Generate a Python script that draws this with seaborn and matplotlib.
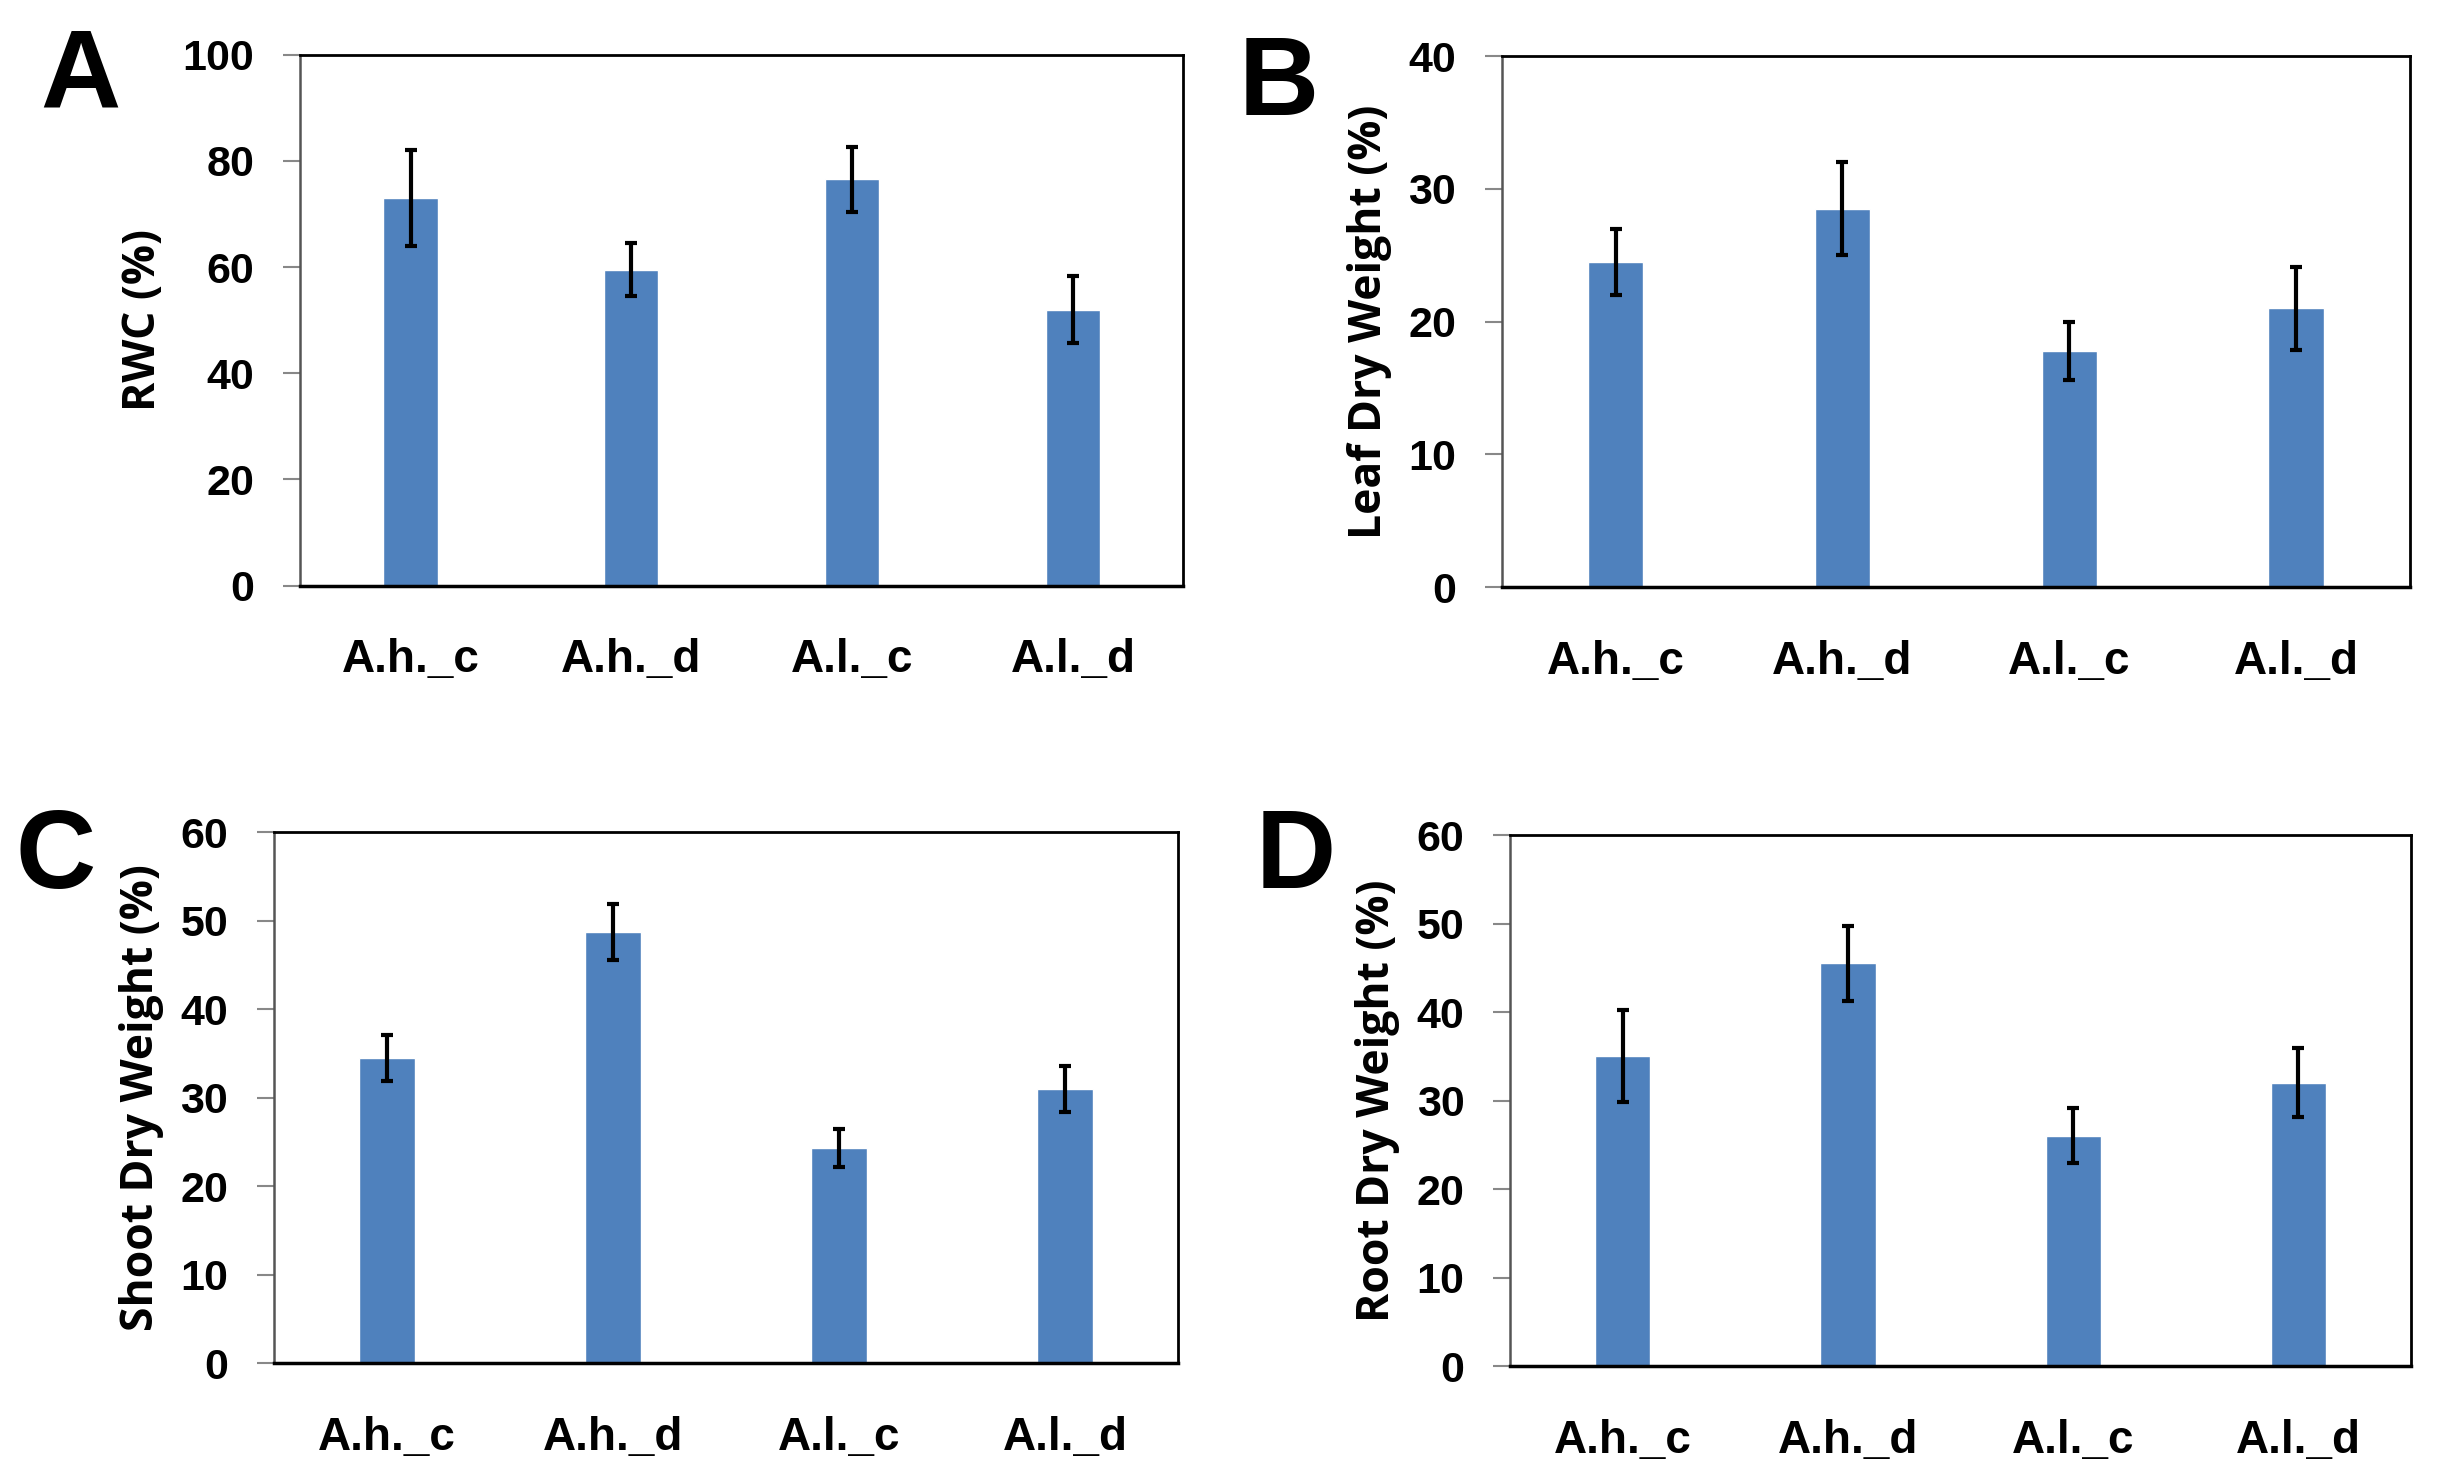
import matplotlib
matplotlib.use("Agg")
import matplotlib.pyplot as plt
import seaborn as sns
import pandas as pd

sns.set_theme(style="white")
plt.rcParams['font.family'] = ['Liberation Sans', 'DejaVu Sans']
plt.rcParams['text.color'] = 'black'
plt.rcParams['axes.labelcolor'] = 'black'

categories = ['A.h._c', 'A.h._d', 'A.l._c', 'A.l._d']

rwc = [73.0, 59.5, 76.5, 52.0]
rwc_err = [9.0, 5.0, 6.2, 6.3]

leaf_dw = [24.5, 28.5, 17.8, 21.0]
leaf_dw_err = [2.5, 3.5, 2.2, 3.1]

shoot_dw = [34.5, 48.7, 24.3, 31.0]
shoot_dw_err = [2.6, 3.2, 2.1, 2.6]

root_dw = [35.0, 45.5, 26.0, 32.0]
root_dw_err = [5.2, 4.2, 3.1, 3.9]

BAR_COLOR = '#4F81BD'

panels = [
    ('A', rwc, rwc_err, 'RWC (%)', 100, 20, [0.123, 0.604, 0.362, 0.359], (0.033, 0.947)),
    ('B', leaf_dw, leaf_dw_err, 'Leaf Dry Weight (%)', 40, 10, [0.6156, 0.603, 0.372, 0.359], (0.524, 0.942)),
    ('C', shoot_dw, shoot_dw_err, 'Shoot Dry Weight (%)', 60, 10, [0.1123, 0.0784, 0.3705, 0.359], (0.023, 0.419)),
    ('D', root_dw, root_dw_err, 'Root Dry Weight (%)', 60, 10, [0.619, 0.0764, 0.369, 0.359], (0.531, 0.419)),
]

fig = plt.figure(figsize=(24.4, 14.79), dpi=100)

for letter, vals, errs, ylabel, ymax, step, rect, lpos in panels:
    ax = fig.add_axes(rect)
    df = pd.DataFrame({'group': categories, 'value': vals})
    sns.barplot(data=df, x='group', y='value', color=BAR_COLOR, width=0.245,
                saturation=1, errorbar=None, ax=ax)
    ax.errorbar(range(len(categories)), vals, yerr=errs, fmt='none',
                ecolor='black', elinewidth=3, capsize=4, capthick=3)
    ax.set_xlim(-0.5, len(categories) - 0.5)
    ax.set_ylim(0, ymax)
    ax.set_yticks(range(0, ymax + 1, step))
    ax.set_xlabel('')
    ax.set_ylabel(ylabel, fontsize=32, fontweight='bold', color='black',
                  family=['Open Sans', 'DejaVu Sans'], labelpad=12)
    ax.tick_params(axis='y', which='both', left=True, length=12, width=1.5,
                   color='#888888', labelcolor='black', pad=21, labelsize=31)
    ax.tick_params(axis='x', bottom=False, pad=32, labelsize=33, labelcolor='black')
    for lab in ax.get_xticklabels() + ax.get_yticklabels():
        lab.set_fontweight('bold')
    for side in ['top', 'right']:
        ax.spines[side].set_color('black')
        ax.spines[side].set_linewidth(2)
    ax.spines['left'].set_color('#555555')
    ax.spines['left'].set_linewidth(1.8)
    ax.spines['bottom'].set_color('black')
    ax.spines['bottom'].set_linewidth(2.5)
    fig.text(lpos[0], lpos[1], letter, fontsize=80, fontweight='bold', color='black',
             ha='center', va='center', family=['Liberation Sans', 'DejaVu Sans'])

fig.savefig('out.png', dpi=100)
